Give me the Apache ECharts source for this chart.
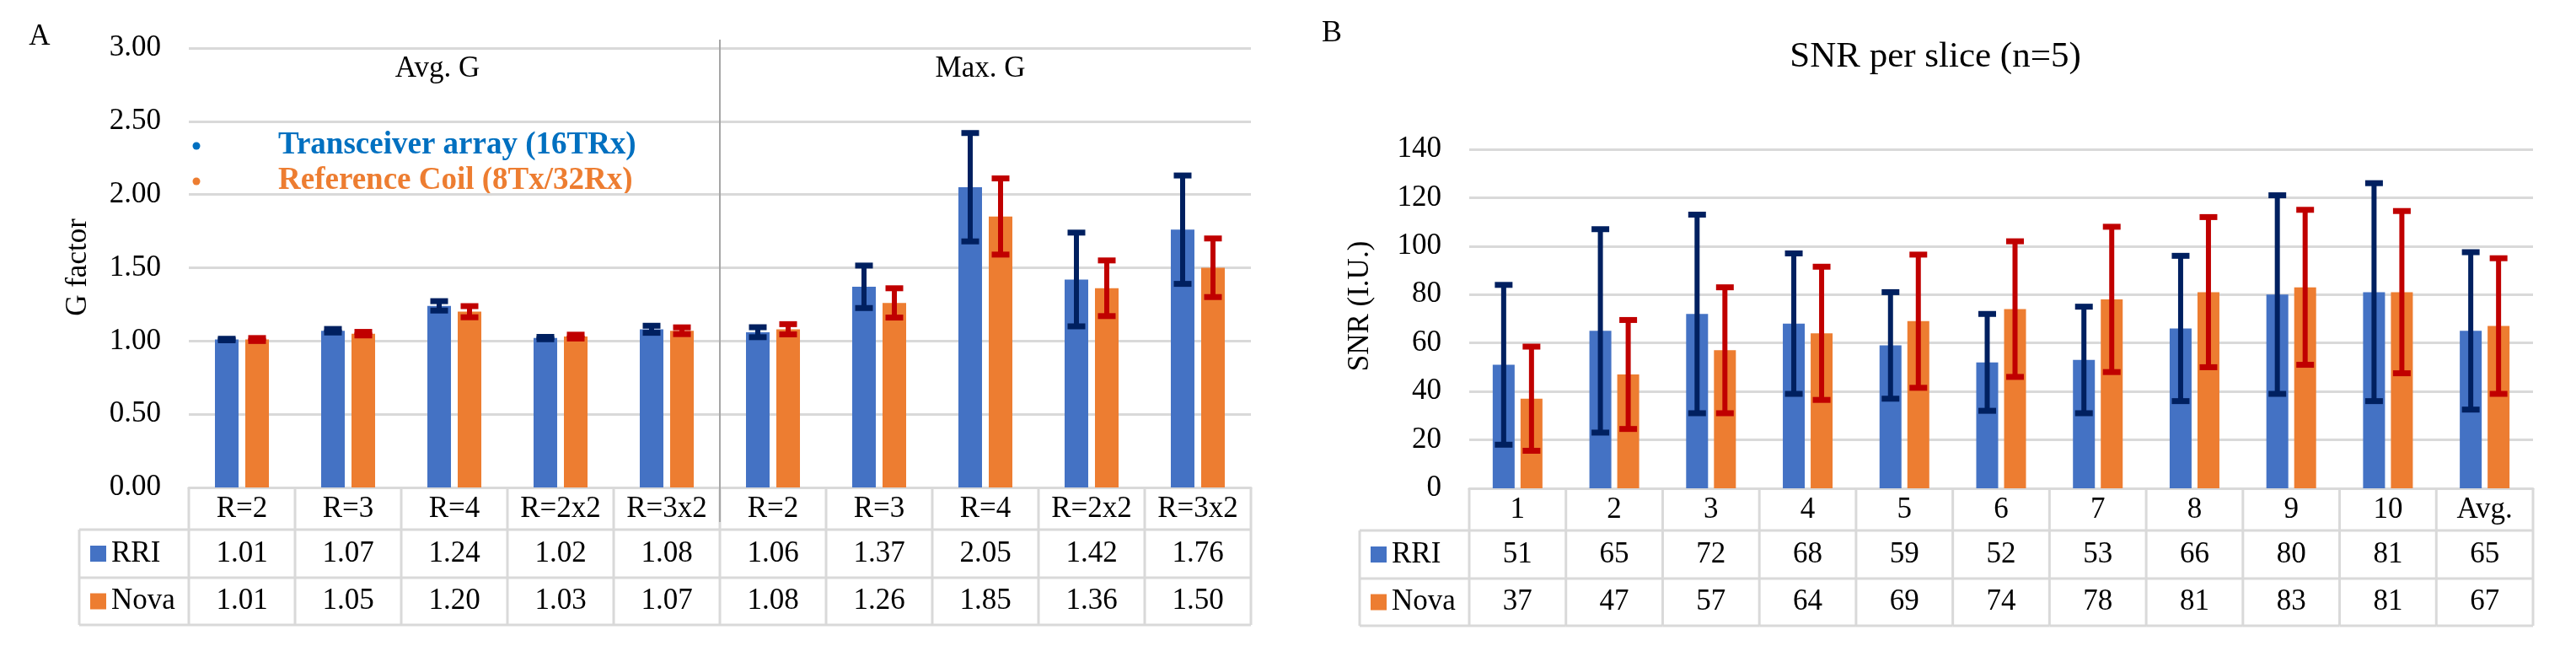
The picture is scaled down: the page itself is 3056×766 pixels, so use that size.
<!DOCTYPE html>
<html><head><meta charset="utf-8">
<script src="https://cdn.jsdelivr.net/npm/echarts@6/dist/echarts.min.js"></script>
<style>html,body{margin:0;padding:0;background:#fff}#c{width:3056px;height:766px}</style>
</head><body><div id="c"></div>
<script>
// ---------- data ----------
const catsA = ['R=2','R=3','R=4','R=2x2','R=3x2','R=2','R=3','R=4','R=2x2','R=3x2'];
const rriA = [1.01,1.07,1.24,1.02,1.08,1.06,1.37,2.05,1.42,1.76];
const novaA = [1.01,1.05,1.20,1.03,1.07,1.08,1.26,1.85,1.36,1.50];
const rriErrA = [0.005,0.012,0.032,0.008,0.024,0.034,0.145,0.37,0.32,0.37];
const novaErrA = [0.01,0.012,0.038,0.013,0.023,0.035,0.10,0.26,0.19,0.20];
const groupsA = ['Avg. G','Max. G'];
const yTicksA = {min:0, max:3, interval:0.5};

const catsB = ['1','2','3','4','5','6','7','8','9','10','Avg.'];
const rriB = [51,65,72,68,59,52,53,66,80,81,65];
const novaB = [37,47,57,64,69,74,78,81,83,81,67];
const rriErrB = [33,42,41,29,22,20,22,30,41,45,32.5];
const novaErrB = [21.5,22.5,26,27.5,27.5,28,30,31,32,33.5,28];
const yTicksB = {min:0, max:140, interval:20};

const seriesNames = ['RRI','Nova'];
const legendA = ['Transceiver array (16TRx)','Reference Coil (8Tx/32Rx)'];
const titleB = 'SNR per slice (n=5)';
const yNameA = 'G factor';
const yNameB = 'SNR (I.U.)';

// ---------- style ----------
const FONT = "'Liberation Serif','Times New Roman',serif";
const BLUE = '#4472C4', ORANGE = '#ED7D31', NAVY = '#002060', RED = '#C00000';
const GRIDC = '#D9D9D9';

const chart = echarts.init(document.getElementById('c'), null, {renderer:'canvas'});

function errData(vals, errs){ return vals.map((v,i)=>[i, v-errs[i], v+errs[i]]); }

function errorBar(color, offset){
  return function(params, api){
    const i = api.value(0), lo = api.value(1), hi = api.value(2);
    const pHi = api.coord([i, hi]), pLo = api.coord([i, lo]);
    const x = pHi[0] + offset, cw = 21;
    return {type:'group', children:[
      {type:'line', shape:{x1:x,y1:pHi[1],x2:x,y2:pLo[1]}, style:{stroke:color,lineWidth:6}},
      {type:'line', shape:{x1:x-cw/2,y1:pHi[1],x2:x+cw/2,y2:pHi[1]}, style:{stroke:color,lineWidth:7}},
      {type:'line', shape:{x1:x-cw/2,y1:pLo[1],x2:x+cw/2,y2:pLo[1]}, style:{stroke:color,lineWidth:7}}
    ]};
  };
}

function tableRenderer(cats, r, n, fmt, yMax, sepIndex){
  return function(params, api){
    const i = api.value(0);
    const p = api.coord([i, 0]);
    const band = api.size([1, 0])[0];
    const cx = p[0], y0 = p[1];
    const L = cx - band/2, R = cx + band/2;
    const h1 = y0 + 50, h2 = y0 + 107, h3 = y0 + 163;
    const ls = {stroke:GRIDC, lineWidth:3};
    const ch = [];
    const line = (x1,y1,x2,y2,s)=>ch.push({type:'line',shape:{x1,y1,x2,y2},style:s||ls});
    const text = (t,x,y,align)=>ch.push({type:'text',x:x,y:y,style:{text:t,fontFamily:FONT,fontSize:35,fill:'#000',align:align||'center',verticalAlign:'middle'}});
    line(L, y0, L, h3);
    if (i === cats.length-1) line(R, y0, R, h3);
    line(L, h1, R, h1); line(L, h2, R, h2); line(L, h3, R, h3);
    text(cats[i], cx, (y0+h1)/2 + 1);
    text(fmt(r[i]), cx, (h1+h2)/2);
    text(fmt(n[i]), cx, (h2+h3)/2);
    if (i === 0){
      const LL = L - 130;
      line(LL, h1, L, h1); line(LL, h2, L, h2); line(LL, h3, L, h3);
      line(LL, h1, LL, h3);
      ch.push({type:'rect', shape:{x:L-117, y:(h1+h2)/2-9.5, width:19, height:19}, style:{fill:BLUE}});
      ch.push({type:'rect', shape:{x:L-117, y:(h2+h3)/2-9.5, width:19, height:19}, style:{fill:ORANGE}});
      text(seriesNames[0], L-92, (h1+h2)/2, 'left');
      text(seriesNames[1], L-92, (h2+h3)/2, 'left');
    }
    if (sepIndex === i){
      const top = api.coord([i, yMax])[1];
      line(L, top-10, L, y0+41, {stroke:'#A6A6A6', lineWidth:2});
    }
    return {type:'group', children:ch};
  };
}

const axisLabelStyle = {fontFamily:FONT, fontSize:35, color:'#000', margin:33};

const option = {
  backgroundColor:'#fff',
  animation:false,
  grid:[
    {left:224, right:3056-1484, top:57, bottom:766-578},
    {left:1743, right:3056-3005, top:177, bottom:766-579}
  ],
  xAxis:[
    {gridIndex:0, type:'category', data:catsA, axisLabel:{show:false}, axisTick:{show:false}, axisLine:{lineStyle:{color:GRIDC,width:3}}},
    {gridIndex:1, type:'category', data:catsB, axisLabel:{show:false}, axisTick:{show:false}, axisLine:{lineStyle:{color:GRIDC,width:3}}}
  ],
  yAxis:[
    {gridIndex:0, type:'value', min:yTicksA.min, max:yTicksA.max, interval:yTicksA.interval,
     axisLabel:Object.assign({formatter:v=>v.toFixed(2)}, axisLabelStyle),
     splitLine:{lineStyle:{color:GRIDC,width:3}}, axisLine:{show:false}, axisTick:{show:false}},
    {gridIndex:1, type:'value', min:yTicksB.min, max:yTicksB.max, interval:yTicksB.interval,
     axisLabel:axisLabelStyle,
     splitLine:{lineStyle:{color:GRIDC,width:3}}, axisLine:{show:false}, axisTick:{show:false}}
  ],
  series:[
    {name:seriesNames[0], type:'bar', xAxisIndex:0, yAxisIndex:0, data:rriA, barWidth:28, barGap:'28.6%', itemStyle:{color:BLUE}},
    {name:seriesNames[1], type:'bar', xAxisIndex:0, yAxisIndex:0, data:novaA, barWidth:28, barGap:'28.6%', itemStyle:{color:ORANGE}},
    {type:'custom', xAxisIndex:0, yAxisIndex:0, data:errData(rriA, rriErrA), encode:{x:0,y:[1,2]}, renderItem:errorBar(NAVY,-18), z:5},
    {type:'custom', xAxisIndex:0, yAxisIndex:0, data:errData(novaA, novaErrA), encode:{x:0,y:[1,2]}, renderItem:errorBar(RED,18), z:5},
    {type:'custom', xAxisIndex:0, yAxisIndex:0, data:catsA.map((c,i)=>[i,0]), encode:{x:0,y:1}, clip:false,
     renderItem:tableRenderer(catsA, rriA, novaA, v=>v.toFixed(2), yTicksA.max, 5), z:6},

    {name:seriesNames[0], type:'bar', xAxisIndex:1, yAxisIndex:1, data:rriB, barWidth:26, barGap:'27%', itemStyle:{color:BLUE}},
    {name:seriesNames[1], type:'bar', xAxisIndex:1, yAxisIndex:1, data:novaB, barWidth:26, barGap:'27%', itemStyle:{color:ORANGE}},
    {type:'custom', xAxisIndex:1, yAxisIndex:1, data:errData(rriB, rriErrB), encode:{x:0,y:[1,2]}, renderItem:errorBar(NAVY,-16.5), z:5},
    {type:'custom', xAxisIndex:1, yAxisIndex:1, data:errData(novaB, novaErrB), encode:{x:0,y:[1,2]}, renderItem:errorBar(RED,16.5), z:5},
    {type:'custom', xAxisIndex:1, yAxisIndex:1, data:catsB.map((c,i)=>[i,0]), encode:{x:0,y:1}, clip:false,
     renderItem:tableRenderer(catsB, rriB, novaB, v=>String(v), yTicksB.max, -1), z:6}
  ],
  graphic:[
    {type:'text', x:47, y:44, style:{text:'A', fontFamily:FONT, fontSize:35, fill:'#000', align:'center', verticalAlign:'middle'}},
    {type:'text', x:1580, y:40, style:{text:'B', fontFamily:FONT, fontSize:36, fill:'#000', align:'center', verticalAlign:'middle'}},
    {type:'text', x:519, y:82, style:{text:groupsA[0], fontFamily:FONT, fontSize:35, fill:'#000', align:'center', verticalAlign:'middle'}},
    {type:'text', x:1163, y:82, style:{text:groupsA[1], fontFamily:FONT, fontSize:35, fill:'#000', align:'center', verticalAlign:'middle'}},
    {type:'circle', shape:{cx:233, cy:173, r:4.5}, style:{fill:'#0070C0'}},
    {type:'circle', shape:{cx:233, cy:215, r:4.5}, style:{fill:ORANGE}},
    {type:'text', x:330, y:172, style:{text:legendA[0], fontFamily:FONT, fontWeight:'bold', fontSize:37, fill:'#0070C0', align:'left', verticalAlign:'middle'}},
    {type:'text', x:330, y:214, style:{text:legendA[1], fontFamily:FONT, fontWeight:'bold', fontSize:37, fill:ORANGE, align:'left', verticalAlign:'middle'}},
    {type:'text', x:2296, y:68, style:{text:titleB, fontFamily:FONT, fontSize:43, fill:'#000', align:'center', verticalAlign:'middle'}},
    {type:'text', x:93, y:317, rotation:Math.PI/2, style:{text:yNameA, fontFamily:FONT, fontSize:35, fill:'#000', align:'center', verticalAlign:'middle'}},
    {type:'text', x:1614, y:363, rotation:Math.PI/2, style:{text:yNameB, fontFamily:FONT, fontSize:35, fill:'#000', align:'center', verticalAlign:'middle'}}
  ]
};
chart.setOption(option);
</script>
</body></html>
